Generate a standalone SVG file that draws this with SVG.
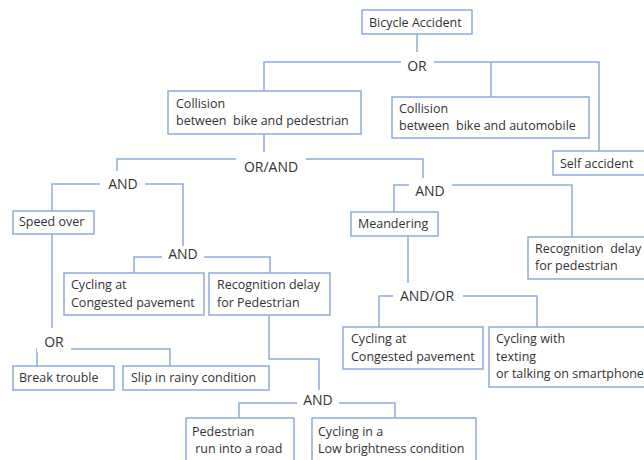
<svg xmlns="http://www.w3.org/2000/svg" width="644" height="460" viewBox="0 0 644 460">
<style>
.box{fill:#fff;stroke:#8eaadb;stroke-width:1.5}
.gbg{fill:#fff;stroke:none}
.con{fill:none;stroke:#8eaadb;stroke-width:1.5}
text{font-family:"Open Sans","Liberation Sans",sans-serif;fill:#333}
.t{font-size:12.5px}
.g{font-size:14px;text-anchor:middle}
</style>
<rect width="644" height="460" fill="#fff"/>
<g id="connectors">
<path class="con" d="M417 34V62"/>
<path class="con" d="M264 91V62H599V151"/>
<path class="con" d="M491 62V97"/>
<path class="con" d="M264 134V159"/>
<path class="con" d="M117 171V159H423V185"/>
<path class="con" d="M52 211V184H183V257"/>
<path class="con" d="M134 273V257H270V273"/>
<path class="con" d="M52 234V349"/>
<path class="con" d="M37 366V349H170V366"/>
<path class="con" d="M269 315V359H319V403"/>
<path class="con" d="M239 418V403H395V418"/>
<path class="con" d="M394 212V185H572V237"/>
<path class="con" d="M408 236V296"/>
<path class="con" d="M379 327V296H537V327"/>
</g>
<g id="gate-or-top"><rect class="gbg" x="401" y="52" width="33" height="26"/><text class="g" x="417" y="71">OR</text></g>
<g id="gate-orand"><rect class="gbg" x="236" y="152" width="70" height="26"/><text class="g" x="271" y="172">OR/AND</text></g>
<g id="gate-and-left"><rect class="gbg" x="100" y="171" width="45" height="26"/><text class="g" x="123" y="189">AND</text></g>
<g id="gate-and-right"><rect class="gbg" x="409" y="178" width="43" height="26"/><text class="g" x="430" y="196">AND</text></g>
<g id="gate-and-mid"><rect class="gbg" x="162" y="246" width="42" height="22"/><text class="g" x="183" y="259">AND</text></g>
<g id="gate-or-low"><rect class="gbg" x="37" y="328" width="34" height="24"/><text class="g" x="54" y="347">OR</text></g>
<g id="gate-and-low"><rect class="gbg" x="297" y="390" width="42" height="24"/><text class="g" x="318" y="405">AND</text></g>
<g id="gate-andor"><rect class="gbg" x="393" y="283" width="70" height="26"/><text class="g" x="427" y="301">AND/OR</text></g>
<g id="n-bicycle"><rect class="box" x="362" y="10" width="110" height="24"/><text class="t" x="369" y="27">Bicycle Accident</text></g>
<g id="n-col-ped"><rect class="box" x="168" y="91" width="193" height="43"/><text class="t" x="176" y="108">Collision</text><text class="t" x="176" y="125" xml:space="preserve">between  bike and pedestrian</text></g>
<g id="n-col-auto"><rect class="box" x="392" y="97" width="197" height="41"/><text class="t" x="399" y="113">Collision</text><text class="t" x="399" y="130" xml:space="preserve">between  bike and automobile</text></g>
<g id="n-self"><rect class="box" x="553" y="151" width="96" height="24"/><text class="t" x="560" y="168">Self accident</text></g>
<g id="n-speed"><rect class="box" x="13" y="211" width="81" height="23"/><text class="t" x="19" y="226">Speed over</text></g>
<g id="n-cyc-cong-l"><rect class="box" x="64" y="273" width="140" height="42"/><text class="t" x="71" y="289">Cycling at</text><text class="t" x="71" y="307">Congested pavement</text></g>
<g id="n-recog-ped"><rect class="box" x="209" y="273" width="121" height="42"/><text class="t" x="217" y="289">Recognition delay</text><text class="t" x="217" y="307">for Pedestrian</text></g>
<g id="n-break"><rect class="box" x="13" y="366" width="101" height="24"/><text class="t" x="19" y="382">Break trouble</text></g>
<g id="n-slip"><rect class="box" x="123" y="366" width="146" height="24"/><text class="t" x="131" y="382">Slip in rainy condition</text></g>
<g id="n-pedrun"><rect class="box" x="186" y="418" width="108" height="50"/><text class="t" x="192" y="436">Pedestrian</text><text class="t" x="192" y="453" xml:space="preserve"> run into a road</text></g>
<g id="n-lowbright"><rect class="box" x="312" y="418" width="164" height="50"/><text class="t" x="318" y="436">Cycling in a</text><text class="t" x="318" y="453">Low brightness condition</text></g>
<g id="n-meander"><rect class="box" x="351" y="212" width="87" height="24"/><text class="t" x="358" y="228">Meandering</text></g>
<g id="n-recog-ped-r"><rect class="box" x="528" y="237" width="130" height="42"/><text class="t" x="535" y="253" xml:space="preserve">Recognition  delay</text><text class="t" x="535" y="270">for pedestrian</text></g>
<g id="n-cyc-cong-r"><rect class="box" x="343" y="327" width="140" height="42"/><text class="t" x="351" y="343">Cycling at</text><text class="t" x="351" y="361">Congested pavement</text></g>
<g id="n-texting"><rect class="box" x="489" y="327" width="170" height="60"/><text class="t" x="496" y="343">Cycling with</text><text class="t" x="496" y="361">texting</text><text class="t" x="496" y="378">or talking on smartphone</text></g>
</svg>
